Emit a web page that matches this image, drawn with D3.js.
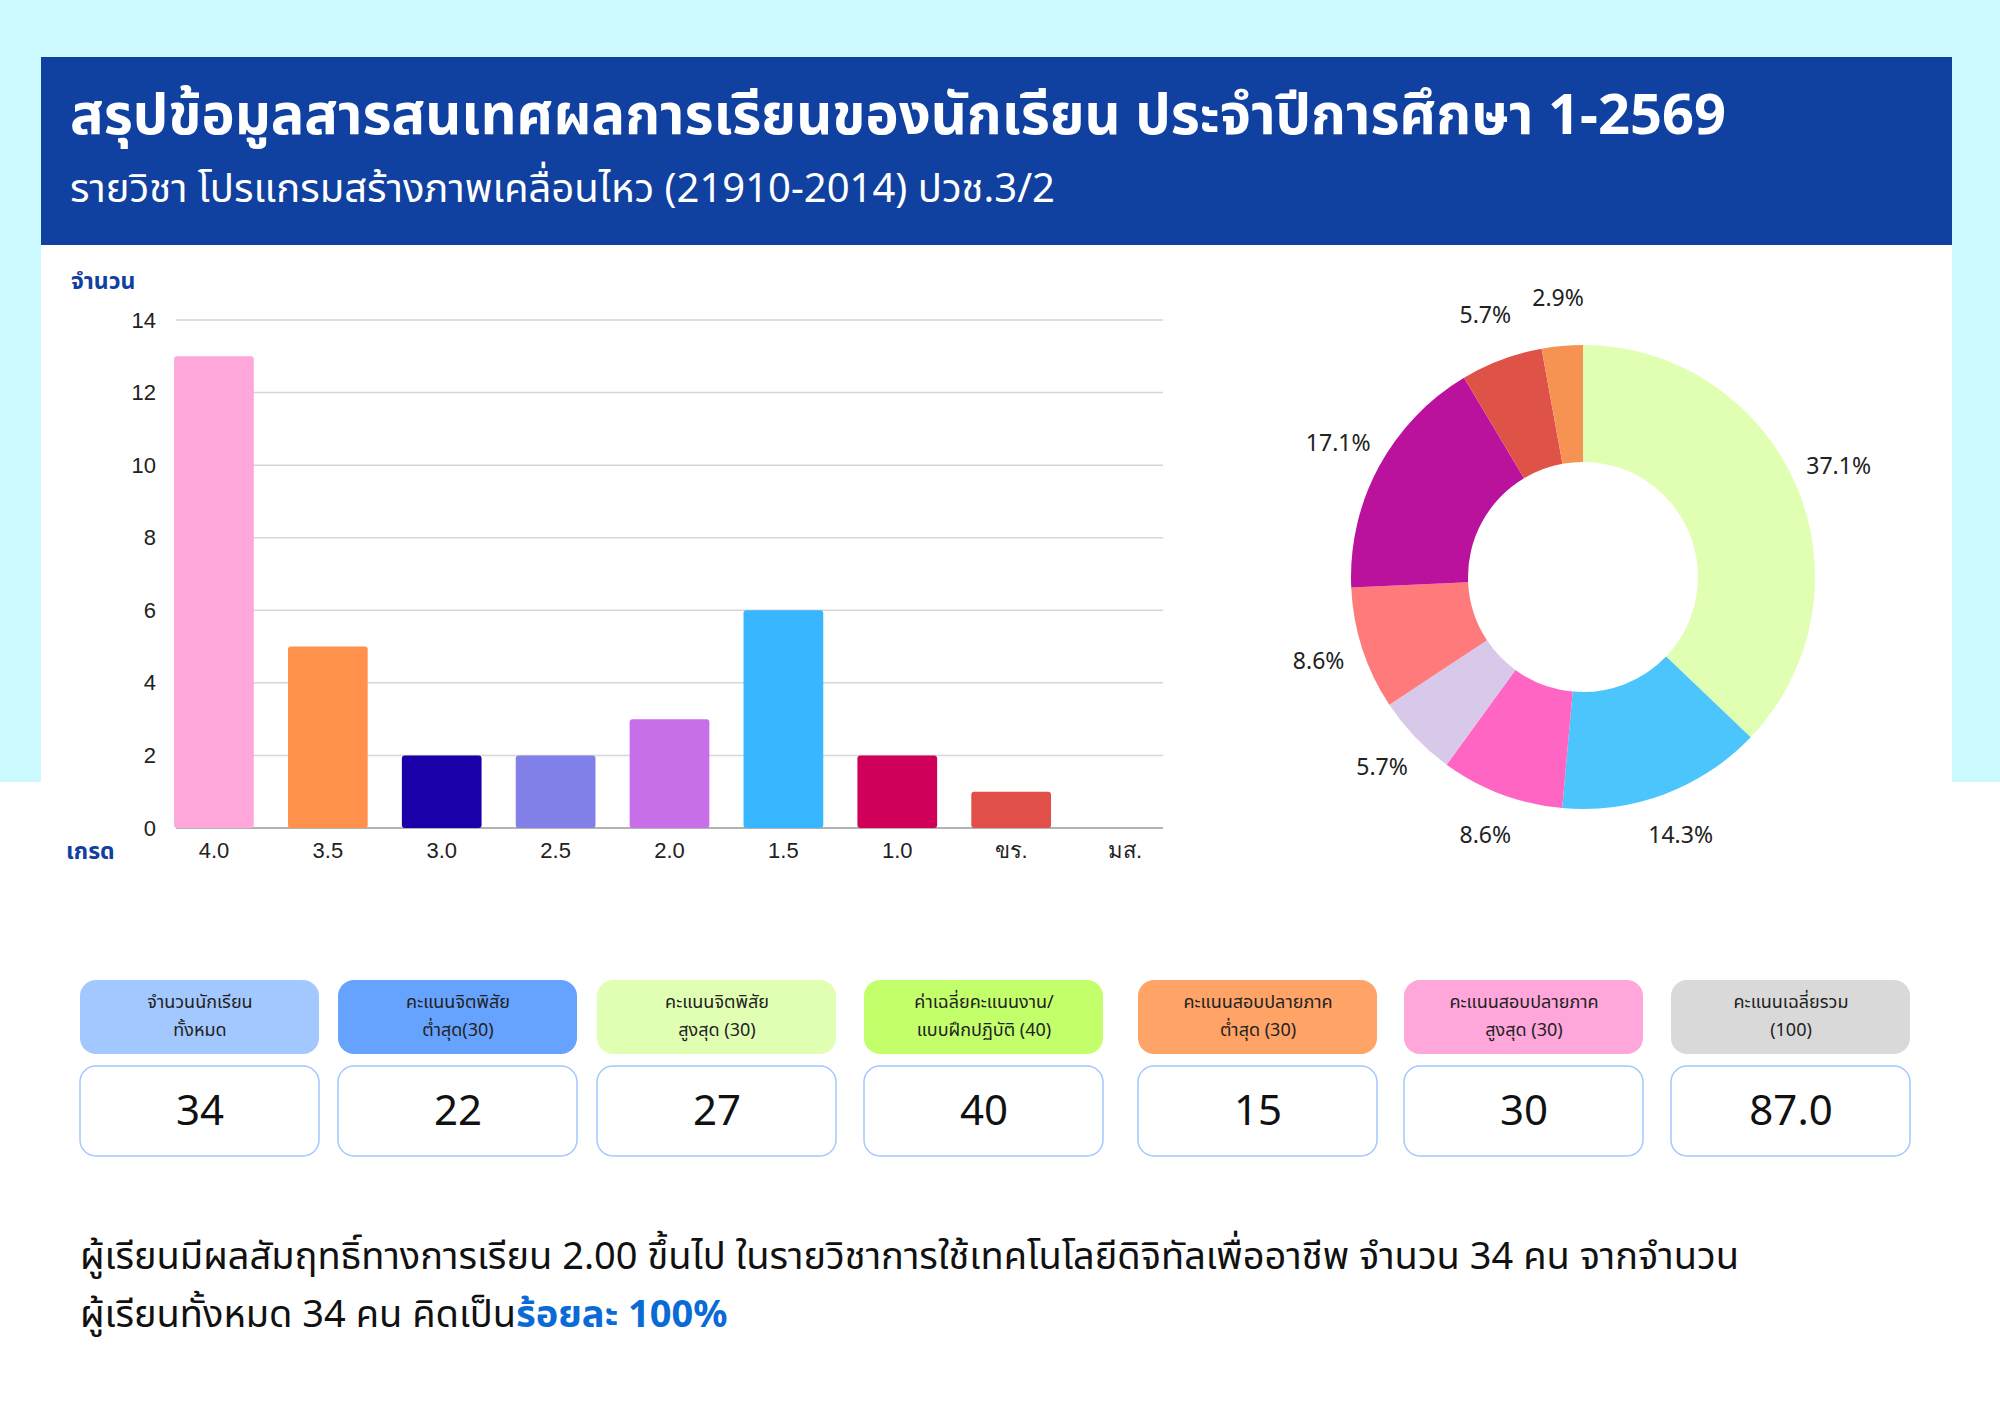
<!DOCTYPE html>
<html>
<head>
<meta charset="utf-8">
<script src="https://cdn.jsdelivr.net/npm/d3@7"></script>
<style>
  body { margin: 0; background: #fff; }
  svg { display: block; font-family: "Noto Sans", "Noto Sans Thai", Roboto, sans-serif; }
</style>
</head>
<body>
<svg id="chart" width="2000" height="1414"></svg>
<script>
// Grade distribution (bar chart)
const grades = ['4.0', '3.5', '3.0', '2.5', '2.0', '1.5', '1.0', 'ขร.', 'มส.'];
const gradeCounts = [13, 5, 2, 2, 3, 6, 2, 1, 0];
const gradeColors = ['#ffa6da', '#ff914d', '#1a00a8', '#8080e8', '#c86ee8', '#38b6ff', '#d0005a', '#e05048', '#999'];
const yTicks = [0, 2, 4, 6, 8, 10, 12, 14];

// Donut (percentages shown as labels)
const donutValues = [13, 5, 3, 2, 3, 6, 2, 1];
const donutLabels = ['37.1%', '14.3%', '8.6%', '5.7%', '8.6%', '17.1%', '5.7%', '2.9%'];
const donutColors = ['#e0ffb3', '#4cc4fc', '#ff66c4', '#d8c8ea', '#ff7a7a', '#bb129e', '#df5248', '#f79352'];

// Summary cards
const cardTitles = [
  ['จำนวนนักเรียน', 'ทั้งหมด'],
  ['คะแนนจิตพิสัย', 'ต่ำสุด(30)'],
  ['คะแนนจิตพิสัย', 'สูงสุด (30)'],
  ['ค่าเฉลี่ยคะแนนงาน/', 'แบบฝึกปฏิบัติ (40)'],
  ['คะแนนสอบปลายภาค', 'ต่ำสุด (30)'],
  ['คะแนนสอบปลายภาค', 'สูงสุด (30)'],
  ['คะแนนเฉลี่ยรวม', '(100)']
];
const cardValues = ['34', '22', '27', '40', '15', '30', '87.0'];
const cardColors = ['#a3c8ff', '#66a3ff', '#e0ffb3', '#c2ff6a', '#ffa366', '#ffa6da', '#d9d9d9'];
const cardX = [80, 338, 597, 864, 1138, 1404, 1671];

const svg = d3.select('#chart');

// Background
svg.append('rect').attr('width', 2000).attr('height', 782).attr('fill', '#ccfaff');
svg.append('rect').attr('x', 41).attr('y', 57).attr('width', 1911).attr('height', 1357).attr('fill', '#fff');
svg.append('rect').attr('x', 0).attr('y', 782).attr('width', 2000).attr('height', 632).attr('fill', '#fff');
svg.append('rect').attr('x', 41).attr('y', 57).attr('width', 1911).attr('height', 188).attr('fill', '#1041a0');

svg.append('text').attr('x', 70).attr('y', 134)
  .attr('fill', '#fff').attr('font-size', 56).attr('font-weight', 700)
  .text('สรุปข้อมูลสารสนเทศผลการเรียนของนักเรียน ประจำปีการศึกษา 1-2569');
svg.append('text').attr('x', 70).attr('y', 202)
  .attr('fill', '#fff').attr('font-size', 40)
  .text('รายวิชา โปรแกรมสร้างภาพเคลื่อนไหว (21910-2014) ปวช.3/2');

// Bar chart
const y = d3.scaleLinear().domain([0, 14]).range([828, 320]);
const x = d3.scaleBand().domain(grades).range([157, 1182]).paddingInner(0.3).paddingOuter(0.15);

const grid = svg.append('g');
grid.selectAll('line').data(yTicks).enter().append('line')
  .attr('x1', 176).attr('x2', 1163)
  .attr('y1', d => y(d)).attr('y2', d => y(d))
  .attr('stroke', d => d === 0 ? '#999' : '#d6d6d6').attr('stroke-width', 1.5);

const yAxis = svg.append('g').attr('transform', 'translate(156,0)')
  .call(d3.axisLeft(y).tickValues(yTicks).tickSize(0).tickPadding(0));
yAxis.select('.domain').remove();
yAxis.selectAll('text').attr('font-size', 22).attr('fill', '#222').attr('font-family', null);

svg.selectAll('rect.bar').data(gradeCounts).enter().append('rect')
  .attr('class', 'bar')
  .attr('x', (d, i) => x(grades[i]))
  .attr('width', x.bandwidth())
  .attr('y', d => y(d))
  .attr('height', d => y(0) - y(d))
  .attr('rx', 3)
  .attr('fill', (d, i) => gradeColors[i]);

const xAxis = svg.append('g').attr('transform', 'translate(0,828)')
  .call(d3.axisBottom(x).tickSize(0).tickPadding(14));
xAxis.select('.domain').remove();
xAxis.selectAll('text').attr('font-size', 22).attr('fill', '#222').attr('font-family', null);

svg.append('text').attr('x', 71).attr('y', 289).attr('fill', '#1041a0')
  .attr('font-size', 23).attr('font-weight', 700).text('จำนวน');
svg.append('text').attr('x', 66).attr('y', 859).attr('fill', '#1041a0')
  .attr('font-size', 23).attr('font-weight', 700).text('เกรด');

// Donut
const pie = d3.pie().sort(null).value(d => d);
const arc = d3.arc().innerRadius(115).outerRadius(232);
const labelArc = d3.arc().innerRadius(278).outerRadius(278);
const donut = svg.append('g').attr('transform', 'translate(1583,577)');
const arcs = pie(donutValues);
donut.selectAll('path').data(arcs).enter().append('path')
  .attr('d', arc).attr('fill', (d, i) => donutColors[i]);
donut.selectAll('text').data(arcs).enter().append('text')
  .attr('transform', d => `translate(${labelArc.centroid(d)})`)
  .attr('text-anchor', 'middle').attr('dominant-baseline', 'middle')
  .attr('font-size', 23).attr('fill', '#222')
  .text((d, i) => donutLabels[i]);

// Cards
const cards = svg.selectAll('g.card').data(cardValues).enter().append('g')
  .attr('class', 'card').attr('transform', (d, i) => `translate(${cardX[i]},0)`);
cards.append('rect').attr('y', 980).attr('width', 239).attr('height', 74).attr('rx', 16)
  .attr('fill', (d, i) => cardColors[i]);
cards.append('text').attr('x', 120).attr('y', 1008).attr('text-anchor', 'middle')
  .attr('font-size', 18).attr('fill', '#222').text((d, i) => cardTitles[i][0]);
cards.append('text').attr('x', 120).attr('y', 1036).attr('text-anchor', 'middle')
  .attr('font-size', 18).attr('fill', '#222').text((d, i) => cardTitles[i][1]);
cards.append('rect').attr('y', 1066).attr('width', 239).attr('height', 90).attr('rx', 16)
  .attr('fill', '#fff').attr('stroke', '#a3c8ff').attr('stroke-width', 1.5);
cards.append('text').attr('x', 120).attr('y', 1125).attr('text-anchor', 'middle')
  .attr('font-size', 42).attr('fill', '#111').text(d => d);

// Footer text
svg.append('text').attr('x', 80).attr('y', 1269).attr('font-size', 38).attr('fill', '#111')
  .text('ผู้เรียนมีผลสัมฤทธิ์ทางการเรียน 2.00 ขึ้นไป ในรายวิชาการใช้เทคโนโลยีดิจิทัลเพื่ออาชีพ จำนวน 34 คน จากจำนวน');
const line2 = svg.append('text').attr('x', 80).attr('y', 1327).attr('font-size', 38).attr('fill', '#111');
line2.append('tspan').text('ผู้เรียนทั้งหมด 34 คน คิดเป็น');
line2.append('tspan').attr('fill', '#0a6ad6').attr('font-weight', 700).text('ร้อยละ 100%');
</script>
</body>
</html>
